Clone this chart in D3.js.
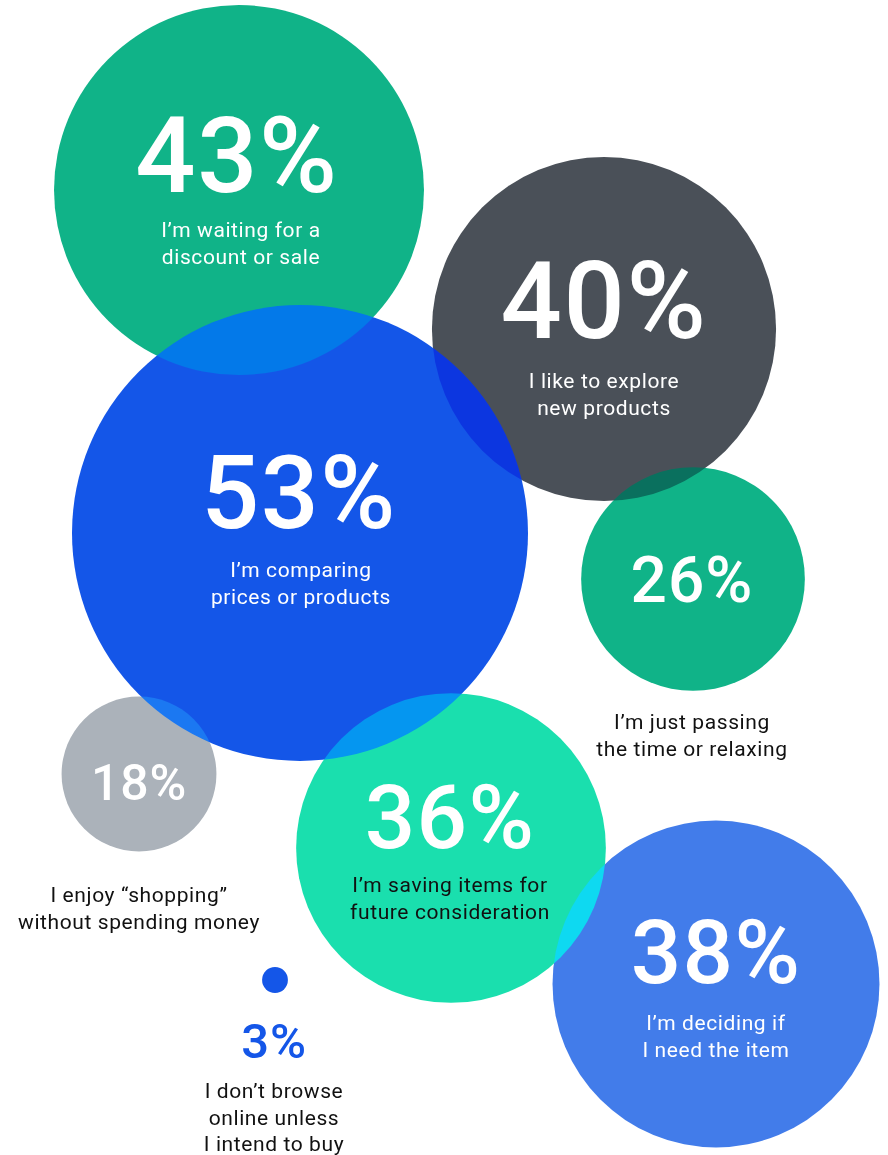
<!DOCTYPE html>
<html>
<head>
<meta charset="utf-8">
<script src="https://cdn.jsdelivr.net/npm/d3@7"></script>
<style>
  html, body { margin: 0; padding: 0; background: #ffffff; }
  svg { display: block; }
  .bubbles { isolation: isolate; }
  .bubbles circle { mix-blend-mode: hard-light; }
  text { font-family: Roboto, "Noto Sans", sans-serif; }
</style>
</head>
<body>
<script>
// Share of respondents per browsing reason (listed in drawing order, later bubbles sit on top)
const values = [43, 26, 40, 18, 36, 38, 53, 3];
const valueLabels = ["43%", "26%", "40%", "18%", "36%", "38%", "53%", "3%"];
const reasons = [
  ["I’m waiting for a", "discount or sale"],
  ["I’m just passing", "the time or relaxing"],
  ["I like to explore", "new products"],
  ["I enjoy “shopping”", "without spending money"],
  ["I’m saving items for", "future consideration"],
  ["I’m deciding if", "I need the item"],
  ["I’m comparing", "prices or products"],
  ["I don’t browse", "online unless", "I intend to buy"]
];

// Presentation: bubble colours and placement
const fills = ["#10B388", "#10B388", "#4A5058", "#ABB2BA", "#1ADFAE", "#427CEA", "#1456E8", "#1456E8"];
const centers = [[239, 190], [693, 579], [604, 329], [139, 774], [451, 848], [716, 984], [300, 533], [275, 980]];
const numberX = [237, 692, 604, 139, 450, 716, 299, 274];
const labelX = [241, 692, 604, 139, 450, 716, 301, 274];
const numberY = [192, 602, 338, 800, 848, 983, 528, 1058];
const numberSize = [106, 64, 108, 50, 89, 89, 102, 49];
const numberColor = ["#fff", "#fff", "#fff", "#fff", "#fff", "#fff", "#fff", "#1456E8"];
const labelY = [237, 729, 388, 902, 892, 1030, 577, 1098];
const labelColor = ["#fff", "#111", "#fff", "#111", "#111", "#fff", "#fff", "#111"];

const W = 888, H = 1155;
const rScale = d3.scaleLinear().domain([0, 53]).range([0, 228]);

const svg = d3.select("body").append("svg")
  .attr("width", W).attr("height", H)
  .attr("viewBox", `0 0 ${W} ${H}`);

const items = values.map((v, i) => ({ v, i }));

svg.append("g").attr("class", "bubbles")
  .selectAll("circle")
  .data(items)
  .join("circle")
  .attr("cx", d => centers[d.i][0])
  .attr("cy", d => centers[d.i][1])
  .attr("r", d => rScale(d.v))
  .attr("fill", d => fills[d.i]);

const labels = svg.append("g").attr("class", "labels");

labels.selectAll("text.num")
  .data(items)
  .join("text")
  .attr("class", "num")
  .attr("x", d => numberX[d.i])
  .attr("y", d => numberY[d.i])
  .attr("text-anchor", "middle")
  .attr("font-size", d => numberSize[d.i])
  .attr("font-weight", 500)
  .attr("letter-spacing", d => numberSize[d.i] * 0.015)
  .attr("fill", d => numberColor[d.i])
  .text(d => valueLabels[d.i]);

labels.selectAll("text.reason")
  .data(items)
  .join("text")
  .attr("class", "reason")
  .attr("text-anchor", "middle")
  .attr("font-size", 21)
  .attr("letter-spacing", 0.6)
  .attr("fill", d => labelColor[d.i])
  .each(function (d) {
    d3.select(this).selectAll("tspan")
      .data(reasons[d.i])
      .join("tspan")
      .attr("x", labelX[d.i])
      .attr("y", (line, k) => labelY[d.i] + k * 26.5)
      .text(line => line);
  });
</script>
</body>
</html>
